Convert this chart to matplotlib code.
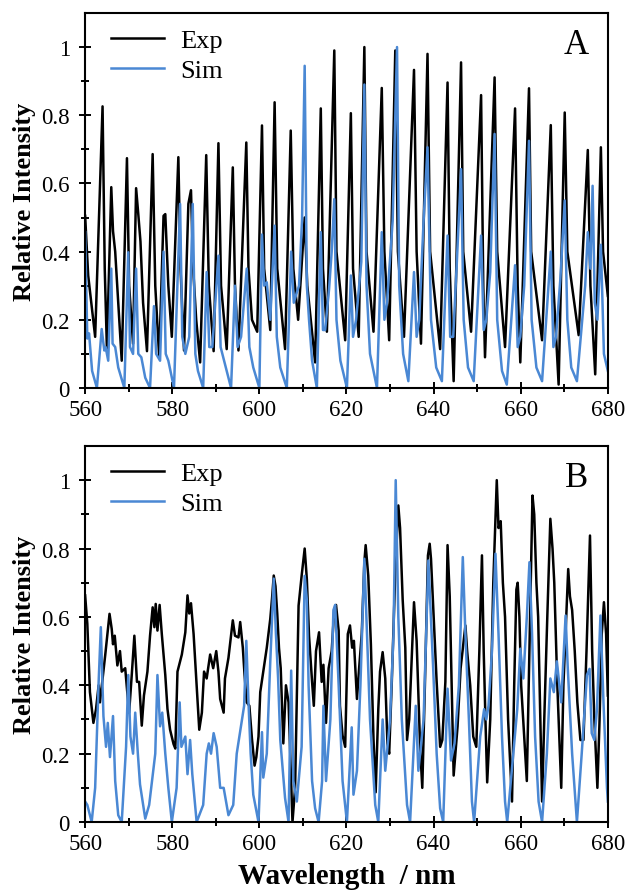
import numpy as np
import matplotlib
matplotlib.use('Agg')
import matplotlib.pyplot as plt

plt.rcParams['font.family'] = ['Liberation Serif', 'DejaVu Serif']

# panel A, experiment (wavelength nm, relative intensity)
a_exp_x = [560.0, 560.7, 562.3, 564.0, 564.5, 565.0, 566.0, 566.4, 566.9, 567.6, 568.4,
           569.6, 570.1, 571.0, 571.7, 572.2, 572.7, 573.3, 574.2, 575.5, 576.1, 577.0,
           578.0, 578.4, 579.1, 579.9, 581.4, 581.9, 582.7, 583.7, 584.3, 584.8, 585.5,
           586.4, 587.8, 588.4, 589.5, 590.6, 591.2, 592.5, 593.9, 594.4, 595.2, 597.0,
           597.5, 598.3, 599.5, 600.6, 601.1, 602.5, 603.5, 604.1, 605.9, 607.2, 607.8,
           608.9, 610.4, 611.0, 612.8, 614.1, 614.6, 615.5, 617.2, 617.7, 619.7, 621.0,
           621.5, 622.8, 624.1, 624.6, 626.2, 628.1, 628.7, 629.8, 631.2, 631.8, 633.2,
           635.5, 636.1, 637.1, 638.6, 639.2, 641.5, 643.2, 643.7, 644.6, 646.3, 646.8,
           648.6, 650.9, 651.4, 651.8, 654.0, 654.6, 656.4, 658.7, 659.3, 659.9, 661.9,
           662.4, 664.9, 666.9, 667.5, 668.7, 670.1, 670.7, 673.3, 675.4, 676.0, 677.1,
           678.4, 678.9, 680.0]
a_exp_y = [0.505, 0.33, 0.15, 0.826, 0.35, 0.114, 0.589, 0.46, 0.40, 0.25, 0.08,
           0.674, 0.30, 0.13, 0.586, 0.51, 0.43, 0.25, 0.108, 0.686, 0.30, 0.09,
           0.505, 0.51, 0.30, 0.15, 0.677, 0.35, 0.11, 0.54, 0.58, 0.35, 0.20,
           0.075, 0.683, 0.30, 0.108, 0.718, 0.30, 0.114, 0.647, 0.30, 0.11, 0.72,
           0.35, 0.20, 0.165, 0.77, 0.35, 0.17, 0.838, 0.35, 0.114, 0.755, 0.35,
           0.20, 0.50, 0.30, 0.075, 0.82, 0.35, 0.165, 0.99, 0.40, 0.14, 0.806,
           0.35, 0.15, 1.0, 0.40, 0.165, 0.88, 0.40, 0.14, 0.99, 0.40, 0.15,
           0.933, 0.40, 0.13, 0.98, 0.40, 0.114, 0.896, 0.35, 0.02, 0.955, 0.40,
           0.165, 0.859, 0.30, 0.09, 0.911, 0.40, 0.12, 0.82, 0.30, 0.075, 0.879,
           0.40, 0.14, 0.771, 0.30, 0.01, 0.808, 0.40, 0.155, 0.698, 0.30, 0.04,
           0.706, 0.40, 0.27]

# panel A, simulation
a_sim_x = [560.0, 560.5, 560.9, 561.6, 562.7, 563.8, 564.4, 564.7, 565.3, 566.0, 566.3,
           566.9, 567.6, 569.0, 569.9, 570.3, 571.0, 571.7, 572.2, 572.9, 573.8, 574.9,
           575.8, 576.3, 577.2, 578.0, 578.5, 579.1, 580.4, 581.8, 582.3, 583.0, 583.9,
           584.7, 585.3, 585.9, 587.1, 587.9, 588.5, 589.2, 590.6, 591.1, 591.9, 593.5,
           594.4, 595.0, 595.8, 597.1, 597.7, 598.6, 600.0, 600.6, 601.1, 601.7, 602.5,
           603.5, 604.0, 604.8, 606.3, 607.3, 607.9, 608.6, 609.1, 609.8, 610.4, 610.9,
           611.4, 612.1, 613.2, 614.1, 614.6, 615.1, 616.0, 616.6, 617.2, 617.7, 618.6,
           620.1, 621.0, 621.5, 622.2, 623.4, 624.1, 624.6, 625.4, 627.0, 628.1, 628.7,
           629.3, 630.6, 631.6, 632.1, 633.0, 634.2, 635.5, 636.1, 636.7, 637.7, 638.6,
           639.4, 640.6, 641.9, 643.2, 643.8, 644.5, 645.3, 646.3, 646.9, 647.9, 649.2,
           650.9, 651.5, 652.1, 653.0, 654.0, 654.6, 655.7, 656.8, 658.7, 659.3, 659.9,
           660.8, 661.9, 662.5, 663.6, 664.9, 666.9, 667.5, 668.1, 669.1, 670.1, 670.7,
           671.6, 672.9, 674.8, 675.4, 676.0, 676.5, 677.0, 677.6, 678.4, 679.1, 680.0]
a_sim_y = [0.457, 0.145, 0.16, 0.05, 0.0, 0.173, 0.11, 0.12, 0.08, 0.35, 0.13,
           0.12, 0.06, 0.0, 0.398, 0.12, 0.10, 0.35, 0.10, 0.09, 0.03, 0.0,
           0.24, 0.10, 0.08, 0.40, 0.10, 0.08, 0.0, 0.54, 0.15, 0.10, 0.15,
           0.54, 0.10, 0.05, 0.0, 0.34, 0.12, 0.12, 0.388, 0.12, 0.08, 0.0,
           0.30, 0.12, 0.15, 0.35, 0.12, 0.06, 0.0, 0.45, 0.30, 0.31, 0.20,
           0.476, 0.15, 0.06, 0.0, 0.40, 0.25, 0.28, 0.30, 0.496, 0.945, 0.30,
           0.20, 0.08, 0.0, 0.457, 0.17, 0.17, 0.29, 0.40, 0.554, 0.20, 0.08,
           0.0, 0.33, 0.15, 0.20, 0.37, 0.89, 0.30, 0.10, 0.0, 0.457, 0.20,
           0.25, 0.49, 1.0, 0.30, 0.10, 0.02, 0.34, 0.15, 0.20, 0.49, 0.706,
           0.20, 0.06, 0.02, 0.447, 0.15, 0.15, 0.36, 0.642, 0.20, 0.06, 0.02,
           0.447, 0.17, 0.20, 0.34, 0.745, 0.20, 0.05, 0.01, 0.36, 0.12, 0.15,
           0.30, 0.725, 0.20, 0.06, 0.02, 0.40, 0.12, 0.15, 0.32, 0.55, 0.20,
           0.06, 0.02, 0.30, 0.457, 0.35, 0.593, 0.25, 0.20, 0.42, 0.10, 0.05]

# panel B, experiment
b_exp_x = [560.0, 560.5, 561.1, 561.9, 562.5, 563.1, 563.4, 564.6, 565.6, 566.1, 566.4,
           566.8, 567.4, 568.0, 568.4, 569.2, 569.6, 570.1, 570.7, 571.3, 571.9, 572.4,
           573.0, 573.5, 574.3, 574.9, 575.5, 575.9, 576.2, 576.6, 577.1, 577.6, 578.4,
           578.9, 579.5, 580.3, 580.7, 581.2, 582.2, 583.0, 583.5, 583.9, 584.3, 584.9,
           585.6, 586.2, 586.8, 587.3, 587.9, 588.7, 589.4, 590.1, 590.6, 591.0, 591.8,
           592.1, 592.9, 593.5, 593.9, 594.4, 595.2, 595.6, 596.2, 596.6, 597.1, 597.7,
           598.3, 598.9, 599.3, 599.8, 600.2, 600.9, 601.7, 602.5, 602.9, 603.3, 603.7,
           604.1, 604.5, 604.9, 605.5, 606.1, 606.7, 607.2, 607.6, 608.2, 609.0, 609.7,
           610.4, 610.9, 611.4, 612.1, 612.5, 613.0, 613.7, 614.3, 614.7, 615.3, 615.9,
           616.6, 617.2, 617.6, 618.2, 618.5, 619.1, 619.7, 620.3, 620.8, 621.3, 621.7,
           622.4, 622.9, 623.5, 624.1, 624.4, 625.0, 625.6, 626.2, 626.7, 627.3, 627.7,
           628.3, 628.9, 629.4, 629.8, 630.4, 631.2, 631.9, 632.3, 632.9, 633.5, 633.9,
           634.4, 635.0, 635.5, 636.1, 636.5, 636.9, 637.4, 638.0, 638.7, 639.1, 639.4,
           639.9, 640.7, 641.5, 642.0, 642.7, 643.2, 643.7, 644.2, 644.6, 645.0, 645.5,
           646.2, 647.3, 647.7, 648.4, 649.1, 649.8, 650.5, 651.1, 651.5, 651.9, 652.3,
           653.0, 653.7, 654.5, 654.9, 655.4, 655.9, 656.4, 657.1, 658.0, 658.5, 659.0,
           659.3, 659.7, 660.1, 660.8, 661.4, 662.0, 662.7, 663.1, 663.6, 664.0, 664.5,
           664.9, 665.4, 666.1, 666.8, 667.3, 667.7, 668.4, 669.3, 669.8, 670.9, 671.3,
           671.8, 672.4, 673.0, 673.7, 674.4, 675.1, 675.9, 676.4, 676.9, 677.6, 678.1,
           678.6, 679.1, 679.6, 680.0]
b_exp_y = [0.663, 0.58, 0.38, 0.29, 0.33, 0.40, 0.35, 0.487, 0.609, 0.565, 0.52,
           0.545, 0.458, 0.50, 0.44, 0.45, 0.39, 0.32, 0.43, 0.545, 0.41, 0.41,
           0.282, 0.37, 0.44, 0.545, 0.628, 0.57, 0.638, 0.56, 0.635, 0.55, 0.43,
           0.331, 0.27, 0.228, 0.215, 0.44, 0.49, 0.555, 0.663, 0.61, 0.64, 0.55,
           0.40, 0.27, 0.32, 0.44, 0.42, 0.49, 0.45, 0.50, 0.44, 0.36, 0.32,
           0.42, 0.48, 0.545, 0.59, 0.545, 0.54, 0.585, 0.51, 0.43, 0.35, 0.34,
           0.243, 0.165, 0.19, 0.25, 0.38, 0.44, 0.51, 0.594, 0.653, 0.721, 0.69,
           0.61, 0.51, 0.45, 0.23, 0.40, 0.35, 0.15, 0.0, 0.10, 0.633, 0.72,
           0.80, 0.71, 0.545, 0.41, 0.34, 0.50, 0.555, 0.41, 0.46, 0.29, 0.45,
           0.50, 0.624, 0.635, 0.56, 0.34, 0.253, 0.22, 0.55, 0.575, 0.51, 0.53,
           0.36, 0.45, 0.55, 0.76, 0.81, 0.72, 0.52, 0.243, 0.087, 0.33, 0.44,
           0.497, 0.42, 0.23, 0.20, 0.41, 0.73, 0.926, 0.86, 0.65, 0.51, 0.24,
           0.30, 0.49, 0.643, 0.53, 0.37, 0.22, 0.10, 0.40, 0.78, 0.814, 0.77,
           0.63, 0.41, 0.22, 0.24, 0.41, 0.81, 0.66, 0.37, 0.136, 0.20, 0.28,
           0.45, 0.575, 0.50, 0.40, 0.25, 0.22, 0.50, 0.78, 0.50, 0.30, 0.116,
           0.30, 0.70, 1.0, 0.86, 0.88, 0.70, 0.60, 0.30, 0.06, 0.40, 0.68,
           0.70, 0.60, 0.40, 0.25, 0.12, 0.50, 0.955, 0.90, 0.70, 0.60, 0.30,
           0.06, 0.30, 0.60, 0.887, 0.80, 0.70, 0.40, 0.10, 0.40, 0.74, 0.66,
           0.62, 0.50, 0.35, 0.24, 0.24, 0.50, 0.838, 0.50, 0.30, 0.10, 0.30,
           0.55, 0.643, 0.55, 0.37]

# panel B, simulation
b_sim_x = [560.0, 560.5, 561.5, 562.3, 563.1, 563.6, 564.2, 564.8, 565.2, 565.7, 566.4,
           566.9, 567.6, 568.4, 569.4, 569.9, 570.4, 571.0, 571.5, 572.1, 572.6, 573.8,
           574.7, 576.1, 576.6, 577.2, 577.7, 578.4, 579.1, 579.9, 581.0, 581.7, 582.1,
           583.0, 583.5, 584.1, 584.6, 585.6, 587.1, 587.9, 588.4, 588.9, 589.5, 590.2,
           591.0, 591.8, 592.9, 594.0, 594.8, 596.0, 596.5, 597.0, 597.5, 598.0, 598.6,
           599.8, 600.6, 600.9, 601.7, 602.5, 603.3, 603.8, 604.3, 604.8, 605.9, 606.7,
           607.3, 607.8, 608.6, 609.7, 610.4, 610.9, 611.3, 612.1, 612.8, 613.6, 614.4,
           614.7, 615.3, 616.3, 617.0, 617.4, 618.2, 619.1, 620.1, 621.2, 621.6, 622.4,
           623.2, 624.1, 624.7, 625.4, 626.6, 627.3, 628.3, 628.9, 630.0, 630.8, 631.3,
           631.9, 632.7, 633.9, 634.6, 635.9, 636.5, 637.7, 638.3, 638.8, 639.9, 640.7,
           641.5, 642.2, 643.2, 644.0, 644.8, 645.8, 646.7, 647.3, 648.1, 648.8, 649.3,
           650.7, 651.6, 652.1, 652.6, 653.4, 654.2, 654.9, 655.7, 656.4, 656.9, 658.3,
           659.2, 659.9, 660.6, 661.4, 662.0, 662.6, 663.3, 664.1, 664.9, 666.0, 666.8,
           667.6, 668.3, 669.3, 670.3, 670.8, 671.8, 672.9, 674.0, 675.2, 675.8, 676.3,
           676.9, 677.5, 678.3, 679.0, 679.8, 680.0]
b_sim_y = [0.06, 0.05, 0.0, 0.10, 0.41, 0.57, 0.31, 0.22, 0.29, 0.19, 0.31,
           0.12, 0.02, 0.0, 0.22, 0.43, 0.25, 0.20, 0.32, 0.20, 0.11, 0.01,
           0.05, 0.20, 0.43, 0.28, 0.32, 0.20, 0.10, 0.0, 0.10, 0.35, 0.22,
           0.25, 0.14, 0.24, 0.14, 0.0, 0.05, 0.20, 0.23, 0.20, 0.26, 0.22,
           0.10, 0.10, 0.02, 0.05, 0.20, 0.30, 0.34, 0.53, 0.35, 0.20, 0.08,
           0.0, 0.263, 0.13, 0.20, 0.468, 0.712, 0.55, 0.42, 0.24, 0.07, 0.0,
           0.443, 0.12, 0.06, 0.22, 0.72, 0.65, 0.40, 0.12, 0.04, 0.0, 0.12,
           0.34, 0.12, 0.30, 0.62, 0.635, 0.40, 0.12, 0.0, 0.277, 0.08, 0.15,
           0.40, 0.77, 0.55, 0.30, 0.05, 0.0, 0.30, 0.15, 0.30, 0.55, 1.0,
           0.60, 0.30, 0.05, 0.0, 0.34, 0.15, 0.30, 0.55, 0.765, 0.45, 0.20,
           0.04, 0.0, 0.39, 0.18, 0.23, 0.40, 0.775, 0.55, 0.30, 0.06, 0.0,
           0.25, 0.33, 0.30, 0.34, 0.50, 0.785, 0.55, 0.25, 0.06, 0.0, 0.20,
           0.33, 0.507, 0.42, 0.60, 0.76, 0.55, 0.25, 0.06, 0.0, 0.20, 0.42,
           0.38, 0.47, 0.35, 0.604, 0.45, 0.20, 0.0, 0.20, 0.43, 0.448, 0.26,
           0.24, 0.33, 0.604, 0.35, 0.10, 0.06]

panels = [('A', a_exp_x, a_exp_y, a_sim_x, a_sim_y),
          ('B', b_exp_x, b_exp_y, b_sim_x, b_sim_y)]

exp_color = 'black'
sim_color = '#4a88d4'

fig = plt.figure(figsize=(6.26, 8.95), dpi=100)
boxes = [[0.136, 0.5654, 0.835, 0.419], [0.136, 0.0804, 0.835, 0.4202]]

for (tag, ex, ey, sx, sy), box in zip(panels, boxes):
    ax = fig.add_axes(box)
    ax.plot(ex, ey, color=exp_color, lw=1.8, label='Exp')
    ax.plot(sx, sy, color=sim_color, lw=1.8, label='Sim')
    ax.set_xlim(560, 680)
    ax.set_ylim(0, 1.1)
    ax.set_xticks(np.arange(560, 681, 20))
    ax.set_xticks(np.arange(570, 680, 20), minor=True)
    ax.set_yticks([0, 0.2, 0.4, 0.6, 0.8, 1.0])
    ax.set_yticklabels(['0', '0.2', '0.4', '0.6', '0.8', '1'])
    ax.set_yticks(np.arange(0.1, 1.1, 0.2), minor=True)
    ax.tick_params(which='major', direction='inout', length=8, width=1.4, labelsize=16.5, pad=4)
    ax.tick_params(axis='y', which='major', pad=7)
    ax.tick_params(which='minor', direction='inout', length=6, width=1.4)
    for s in ax.spines.values():
        s.set_linewidth(1.5)
    ax.set_ylabel('Relative Intensity', fontsize=19, fontweight='bold', labelpad=4)
    ax.legend(loc='upper left', bbox_to_anchor=(0.05, 0.958), frameon=False,
              fontsize=19, handlelength=2.0, handletextpad=0.6, borderpad=0,
              borderaxespad=0, labelspacing=0.25)
    ax.text(0.94, 0.915, tag, transform=ax.transAxes, fontsize=25,
            ha='center', va='center')

ax.set_xlabel('Wavelength  / nm', fontsize=21, fontweight='bold', labelpad=6)

fig.savefig('out.png', dpi=100)
